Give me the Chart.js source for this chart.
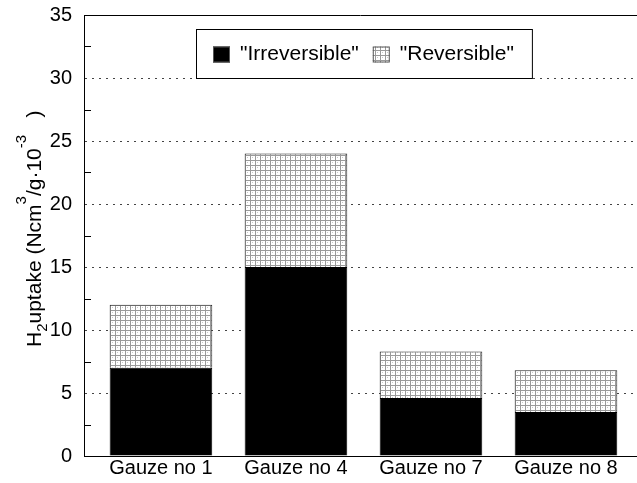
<!DOCTYPE html>
<html>
<head>
<meta charset="utf-8">
<script src="https://cdn.jsdelivr.net/npm/chart.js@4"></script>
<style>
  html, body { margin: 0; padding: 0; background: #fff; }
  #wrap { width: 637px; height: 483px; position: relative; }
</style>
</head>
<body>
<div id="wrap"><canvas id="chart"></canvas></div>
<script>
// data
const gauzes = ['Gauze no 1', 'Gauze no 4', 'Gauze no 7', 'Gauze no 8'];
const irreversible = [7.0, 15.0, 4.6, 3.5];
const reversible = [5.0, 9.0, 3.7, 3.3];
const yTicks = [0, 5, 10, 15, 20, 25, 30, 35];
const seriesNames = ['"Irreversible"', '"Reversible"'];

const FONT = '"Liberation Sans", Arial, Helvetica, sans-serif';

// light grey grid texture for the reversible part
function makePattern() {
    const c = document.createElement('canvas');
    c.width = 5; c.height = 5;
    const g = c.getContext('2d');
    g.fillStyle = '#ffffff';
    g.fillRect(0, 0, 5, 5);
    g.fillStyle = '#9a9a9a';
    g.fillRect(0, 0, 5, 1);
    g.fillRect(0, 0, 1, 5);
    g.fillStyle = '#c8c8c8';
    g.fillRect(2, 2, 1, 1);
    return g.createPattern(c, 'repeat');
}
const reversibleFill = makePattern();

// frame top line, minor ticks, axis title and boxed legend
const extras = {
    id: 'extras',
    afterDraw(chart) {
        const ctx = chart.ctx;
        const ca = chart.chartArea;
        const y = chart.scales.y;
        ctx.save();
        ctx.strokeStyle = '#000';
        ctx.lineWidth = 1;
        ctx.beginPath();
        ctx.moveTo(ca.left, ca.top + 0.5);
        ctx.lineTo(ca.right, ca.top + 0.5);
        ctx.stroke();

        // minor ticks on the inside of the y axis
        ctx.beginPath();
        for (let v = 2.5; v < 35; v += 5) {
            const py = Math.round(y.getPixelForValue(v)) + 0.5;
            ctx.moveTo(ca.left, py);
            ctx.lineTo(ca.left + 7, py);
        }
        ctx.stroke();

        // y axis title with sub / superscripts
        ctx.translate(41, 347);
        ctx.rotate(-Math.PI / 2);
        ctx.fillStyle = '#000';
        ctx.textBaseline = 'alphabetic';
        let x = 0;
        const part = (txt, size, dy) => {
            ctx.font = size + 'px ' + FONT;
            ctx.fillText(txt, x, dy);
            x += ctx.measureText(txt).width;
        };
        part('H', 21, 0);
        part('2', 15, 6);
        part('uptake (Ncm', 21, 0);
        part('3', 15, -15);
        part('/g\u00b710', 21, 0);
        part('-3', 15, -15);
        part('   )', 21, 0);
        ctx.restore();

        // legend box
        ctx.save();
        ctx.font = '21px ' + FONT;
        ctx.textBaseline = 'middle';
        const bx = ca.left + 112, by = ca.top + 14, bh = 49;
        const fills = ['#000', reversibleFill];
        let lx = bx + 17;
        const items = [];
        seriesNames.forEach((name, i) => {
            items.push({ x: lx, name, fill: fills[i] });
            lx += 27 + ctx.measureText(name).width + 14;
        });
        const bw = lx - bx + 4;
        ctx.fillStyle = '#fff';
        ctx.fillRect(bx, by, bw, bh);
        ctx.strokeStyle = '#000';
        ctx.lineWidth = 1;
        ctx.strokeRect(bx + 0.5, by + 0.5, bw, bh);
        const cy = by + bh / 2 + 1;
        items.forEach(it => {
            ctx.fillStyle = it.fill;
            ctx.fillRect(it.x, cy - 8, 17, 16);
            ctx.strokeStyle = '#555';
            ctx.strokeRect(it.x + 0.5, cy - 7.5, 16, 15);
            ctx.fillStyle = '#000';
            ctx.fillText(it.name, it.x + 27, cy);
        });
        ctx.restore();
    }
};

new Chart(document.getElementById('chart'), {
    type: 'bar',
    data: {
        datasets: [
            {
                label: seriesNames[0],
                data: irreversible.map((v, i) => ({ x: i + 1, y: v })),
                backgroundColor: '#000',
                borderColor: '#000',
                borderWidth: 1,
                stack: 's',
            },
            {
                label: seriesNames[1],
                data: reversible.map((v, i) => ({ x: i + 1, y: v })),
                backgroundColor: reversibleFill,
                borderColor: '#222',
                borderWidth: 1,
                stack: 's',
            },
        ],
    },
    options: {
        responsive: true,
        maintainAspectRatio: false,
        animation: false,
        barPercentage: 0.76,
        categoryPercentage: 1,
        layout: { padding: { top: 15, left: 0, right: 0, bottom: 0 } },
        plugins: { legend: { display: false }, tooltip: { enabled: false } },
        scales: {
            x: {
                type: 'linear',
                offset: false,
                min: 0.43,
                max: 4.526,
                afterBuildTicks: (s) => { s.ticks = gauzes.map((g, i) => ({ value: i + 1 })); },
                afterFit: (s) => { s.height = 27; s.paddingLeft = 0; s.paddingRight = 0; },
                grid: { display: false, drawTicks: false, tickLength: 0 },
                border: { color: '#000', width: 1 },
                ticks: {
                    autoSkip: false,
                    maxRotation: 0,
                    padding: 0,
                    color: '#000',
                    font: { family: FONT, size: 20 },
                    callback: (v) => gauzes[v - 1] || '',
                },
            },
            y: {
                stacked: true,
                min: 0,
                max: 35,
                afterBuildTicks: (s) => { s.ticks = yTicks.map(v => ({ value: v })); },
                afterFit: (s) => { s.width = 84; s.paddingTop = 0; s.paddingBottom = 0; },
                border: { color: '#000', width: 1, dash: [2, 5] },
                grid: {
                    drawTicks: false,
                    color: (c) => (c.tick && c.tick.value > 0 && c.tick.value < 35) ? '#444' : 'transparent',
                },
                ticks: {
                    padding: 12,
                    color: '#000',
                    font: { family: FONT, size: 20 },
                },
            },
        },
    },
    plugins: [extras],
});
</script>
</body>
</html>
